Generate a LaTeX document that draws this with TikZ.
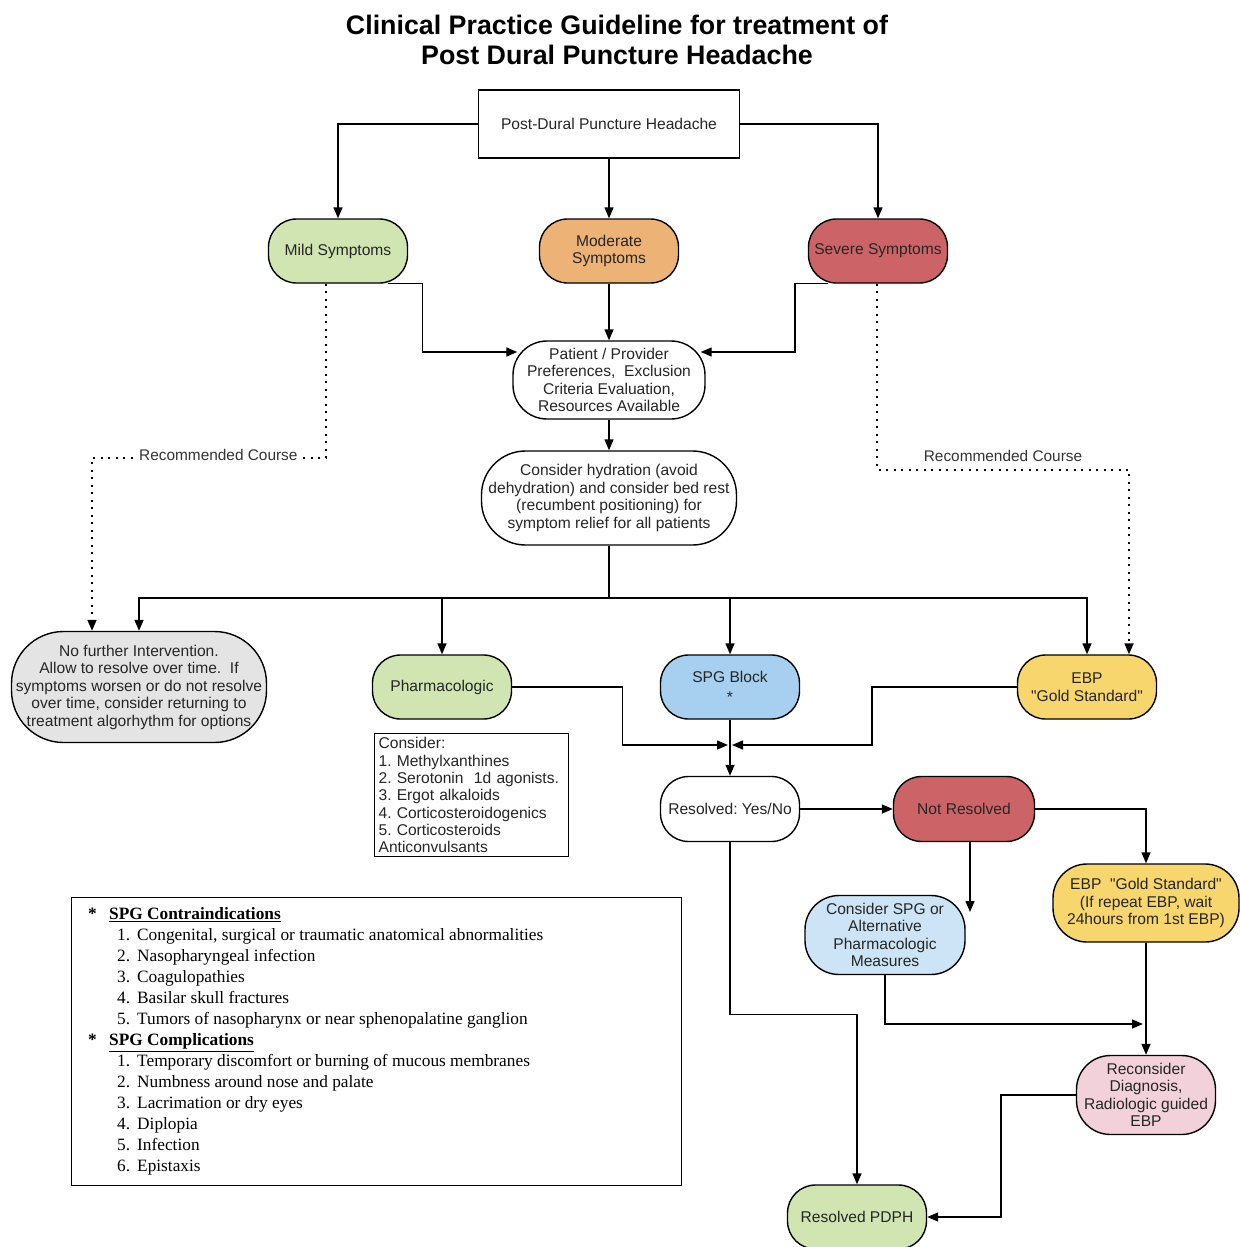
\documentclass[tikz,border=0pt]{standalone}
\usepackage{fontspec}
\setmainfont{Liberation Sans}
\newfontfamily\listfont{Liberation Serif}
\usetikzlibrary{arrows.meta}
\frenchspacing

\definecolor{mildgreen}{HTML}{D0E5B2}
\definecolor{modorange}{HTML}{EDB276}
\definecolor{sevred}{HTML}{CC6467}
\definecolor{spgblue}{HTML}{A6CFF0}
\definecolor{ebpyellow}{HTML}{F7D66E}
\definecolor{paleblue}{HTML}{CCE4F5}
\definecolor{palepink}{HTML}{F2D1DB}
\definecolor{palegray}{HTML}{E4E4E4}

\begin{document}
\begin{tikzpicture}[
    x=1pt, y=-1pt,
    box/.style={draw, line width=1.4pt, minimum width=261pt, minimum height=68pt, align=center, font=\fontsize{15.6}{17.5}\selectfont, text=black!85},
    pill/.style={draw, line width=1.4pt, rounded corners=28pt, minimum width=139pt, minimum height=64pt, align=center, inner sep=1pt, font=\fontsize{15.6}{17.5}\selectfont, text=black!85},
    note/.style={draw, line width=1.2pt, text width=186pt, align=left, inner sep=4pt, font=\fontsize{15.6}{17.3}\selectfont, text=black!85},
    arr/.style={-{Triangle[length=11pt,width=9pt]}, line width=1.4pt},
    dotarr/.style={arr, line width=1.8pt, dash pattern=on 2pt off 5.5pt}
]
\useasboundingbox (0,0) rectangle (1239,1247);
\fill[white] (0,0) rectangle (1239,1247);

\node[font=\bfseries\fontsize{26.8}{30}\selectfont, align=center] (title) at (617,40) {Clinical Practice Guideline for treatment of\\Post Dural Puncture Headache};

\node[box] (top) at (609,124) {Post-Dural Puncture Headache};
\node[pill, fill=mildgreen] (mild) at (338,251) {Mild Symptoms};
\node[pill, fill=modorange] (moderate) at (609,251) {Moderate\\Symptoms};
\node[pill, fill=sevred] (severe) at (878,251) {Severe Symptoms};
\node[pill, fill=white, minimum width=192pt, minimum height=78pt, rounded corners=34pt] (pat) at (609,380) {Patient / Provider\\Preferences,~~Exclusion\\Criteria Evaluation,\\Resources Available};
\node[pill, fill=white, minimum width=255pt, minimum height=94pt, rounded corners=44pt] (hyd) at (609,498) {Consider hydration (avoid\\dehydration) and consider bed rest\\(recumbent positioning) for\\symptom relief for all patients};
\coordinate (bus) at (609,598);

\node[pill, fill=palegray, minimum width=255pt, minimum height=111pt, rounded corners=52pt] (nofur) at (139,687) {No further Intervention.\\Allow to resolve over time.~~If\\symptoms worsen or do not resolve\\over time, consider returning to\\treatment algorhythm for options};
\node[pill, fill=mildgreen] (pharm) at (442,687) {Pharmacologic};
\node[pill, fill=spgblue] (spg) at (730,687) {SPG Block\\[2pt]*};
\node[pill, fill=ebpyellow] (ebp) at (1087,687) {EBP\\\textquotedbl Gold Standard\textquotedbl};
\node[note, anchor=north west] (pharmlist) at (374,733) {Consider:\\1. Methylxanthines\\2. Serotonin~~1d agonists.\\3. Ergot alkaloids\\4. Corticosteroidogenics\\5. Corticosteroids\\Anticonvulsants};
\coordinate (join) at (730,745);

\node[pill, fill=white, minimum height=65pt] (resyn) at (730,809) {Resolved: Yes/No};
\node[pill, fill=sevred, minimum width=141pt, minimum height=65pt] (notres) at (964,809) {Not Resolved};
\node[pill, fill=ebpyellow, minimum width=186pt, minimum height=78pt, rounded corners=34pt] (ebp2) at (1146,903) {EBP~~\textquotedbl Gold Standard\textquotedbl\\(If repeat EBP, wait\\24hours from 1st EBP)};
\node[pill, fill=paleblue, minimum width=160pt, minimum height=79pt, rounded corners=34pt] (cspg) at (885,935) {Consider SPG or\\Alternative\\Pharmacologic\\Measures};
\coordinate (cspgin) at (970,912);
\coordinate (merge) at (1146,1024);
\node[pill, fill=palepink, minimum height=79pt, rounded corners=34pt] (recon) at (1146,1095) {Reconsider\\Diagnosis,\\Radiologic guided\\EBP};
\node[pill, fill=mildgreen] (pdph) at (857,1217) {Resolved PDPH};

% SPG contraindications / complications
\node[draw, line width=1.2pt, minimum width=610pt, minimum height=288pt, anchor=north west] (spgbox) at (71,897) {};
\node[anchor=north west, inner sep=0pt, font=\listfont\fontsize{17.3}{21}\selectfont] (spgtext) at (88,905) {%
\begin{tabular}{@{}l@{}l@{}l@{}}
\makebox[21pt][l]{\textbf{*}} & \multicolumn{2}{@{}l@{}}{\textbf{\underline{SPG Contraindications}}}\\
 & \makebox[28pt][l]{\hspace{8pt}1.} & Congenital, surgical or traumatic anatomical abnormalities\\
 & \makebox[28pt][l]{\hspace{8pt}2.} & Nasopharyngeal infection\\
 & \makebox[28pt][l]{\hspace{8pt}3.} & Coagulopathies\\
 & \makebox[28pt][l]{\hspace{8pt}4.} & Basilar skull fractures\\
 & \makebox[28pt][l]{\hspace{8pt}5.} & Tumors of nasopharynx or near sphenopalatine ganglion\\
\makebox[21pt][l]{\textbf{*}} & \multicolumn{2}{@{}l@{}}{\textbf{\underline{SPG Complications}}}\\
 & \makebox[28pt][l]{\hspace{8pt}1.} & Temporary discomfort or burning of mucous membranes\\
 & \makebox[28pt][l]{\hspace{8pt}2.} & Numbness around nose and palate\\
 & \makebox[28pt][l]{\hspace{8pt}3.} & Lacrimation or dry eyes\\
 & \makebox[28pt][l]{\hspace{8pt}4.} & Diplopia\\
 & \makebox[28pt][l]{\hspace{8pt}5.} & Infection\\
 & \makebox[28pt][l]{\hspace{8pt}6.} & Epistaxis
\end{tabular}};

% top of the tree
\draw[arr] (top.west) -| (mild.north);
\draw[arr] (top.south) -- (moderate.north);
\draw[arr] (top.east) -| (severe.north);
\draw[arr] ([xshift=-20pt]mild.south east) -- ++(34,0) |- ([xshift=5pt,yshift=28pt]pat.west);
\draw[arr] (moderate.south) -- (pat.north);
\draw[arr] ([xshift=20pt]severe.south west) -- ++(-33,0) |- ([xshift=-5pt,yshift=28pt]pat.east);
\draw[arr] (pat.south) -- (hyd.north);
\draw[line width=1.4pt] (hyd.south) -- (bus);
\draw[arr] (bus) -| (nofur.north);
\draw[arr] (bus) -| (pharm.north);
\draw[arr] (bus) -| (spg.north);
\draw[arr] (bus) -| (ebp.north);

% recommended course
\draw[dotarr] ([xshift=-12pt]mild.south) -- ++(0,174) -| node[pos=0.23, fill=white, inner sep=3pt, yshift=3pt, font=\fontsize{15.4}{17}\selectfont, text=black!80]{Recommended Course} ([xshift=-47pt]nofur.north);
\draw[dotarr] ([xshift=-1pt]severe.south) -- ++(0,186) -| node[pos=0.25, above=4pt, font=\fontsize{15.4}{17}\selectfont, text=black!80]{Recommended Course} ([xshift=42pt]ebp.north);

% treatments
\draw[arr] (pharm.east) -- ++(110,0) |- ([xshift=-2pt]join);
\draw[arr] (ebp.west) -- ++(-145,0) |- ([xshift=2pt]join);
\draw[arr] (spg.south) -- (resyn.north);
\draw[arr] (resyn.east) -- (notres.west);
\draw[arr] (notres.east) -| (ebp2.north);
\draw[arr] (notres.south -| cspgin) -- (cspgin);
\draw[arr] (cspg.south) |- ([xshift=-3pt]merge);
\draw[arr] (ebp2.south) -- (recon.north);
\draw[arr] (recon.west) -- ++(-75,0) |- (pdph.east);
\draw[arr] (resyn.south) -- ++(0,172) -| (pdph.north);
\end{tikzpicture}
\end{document}
